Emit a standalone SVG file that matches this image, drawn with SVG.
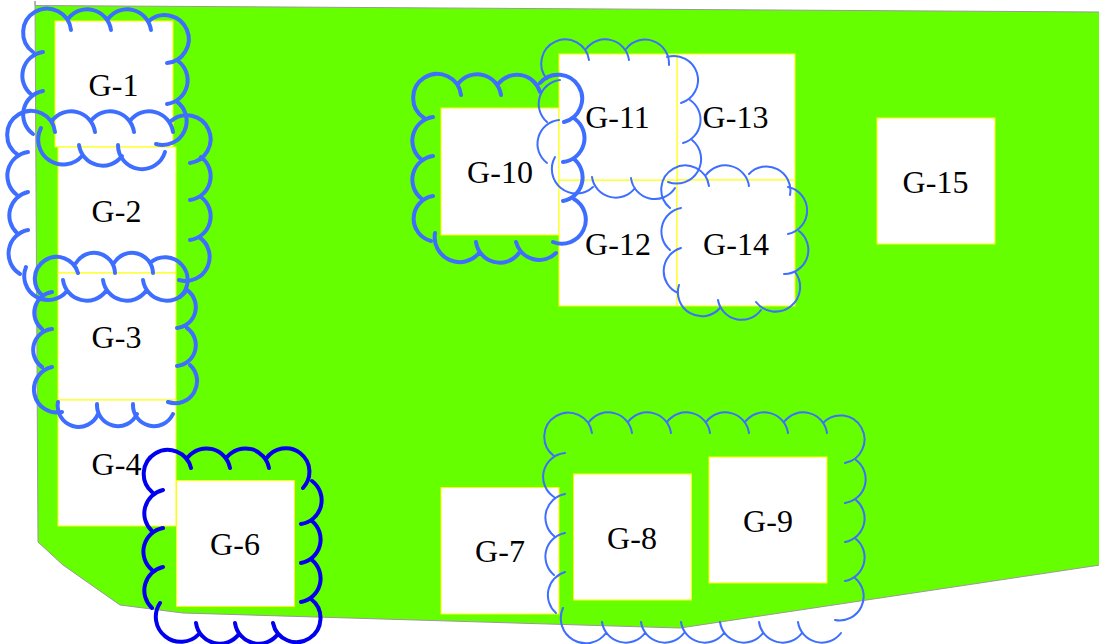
<svg xmlns="http://www.w3.org/2000/svg" width="1099" height="644" viewBox="0 0 1099 644">
<style>
.bg{fill:#66ff00;stroke:#999;stroke-width:1}
.n rect{fill:#fff;stroke:#ffff00;stroke-width:1}
.n text{font-family:"Liberation Serif","Times New Roman",serif;font-size:32px;fill:#000;text-anchor:middle}
.c{fill:none;stroke:#3d6eff;stroke-linecap:round}
.t{stroke-width:4}
.f{stroke-width:2}
.d{stroke:#0000ee}
</style>
<rect width="1099" height="644" fill="#fff"/>
<polygon class="bg" points="35,1 35,5.500 1100,12 1100,565 680,628 183,613 120,605 63,565 38,542"/>
<g id="G-1" class="n"><rect x="55" y="21" width="118" height="126"/><text x="113.500" y="96">G-1</text></g>
<g id="G-2" class="n"><rect x="58" y="147" width="118" height="126"/><text x="116.500" y="222">G-2</text></g>
<g id="G-3" class="n"><rect x="58" y="273" width="118" height="127"/><text x="116.500" y="348">G-3</text></g>
<g id="G-4" class="n"><rect x="58" y="400" width="118" height="126"/><text x="116.500" y="475">G-4</text></g>
<g id="G-6" class="n"><rect x="176.500" y="480.500" width="118" height="126"/><text x="235" y="555">G-6</text></g>
<g id="G-7" class="n"><rect x="441" y="487.500" width="118" height="126.500"/><text x="500" y="562">G-7</text></g>
<g id="G-8" class="n"><rect x="573.500" y="474" width="118" height="126"/><text x="632" y="549">G-8</text></g>
<g id="G-9" class="n"><rect x="709" y="457" width="118" height="126"/><text x="768" y="532">G-9</text></g>
<g id="G-10" class="n"><rect x="441" y="108" width="118" height="127"/><text x="500" y="183">G-10</text></g>
<g id="G-12" class="n"><rect x="559" y="180" width="118" height="126"/><text x="618" y="255">G-12</text></g>
<g id="G-13" class="n"><rect x="677" y="54" width="118" height="126"/><text x="735.500" y="128">G-13</text></g>
<g id="G-14" class="n"><rect x="677" y="180" width="118" height="126"/><text x="736" y="255">G-14</text></g>
<g id="G-11" class="n"><rect x="559" y="54" width="118" height="126"/><text x="617.500" y="128">G-11</text></g>
<g id="G-15" class="n"><rect x="877" y="118" width="118" height="126"/><text x="935.500" y="193">G-15</text></g>
<g id="connectors">
<path id="cloud-G-1" class="c t" d="M33,52A24 24 0 1 1 71,30M68,19A24 24 0 0 1 111,30M108,19A24 24 0 0 1 151,30M149,21A24 24 0 1 1 167,63M178,61A24 24 0 0 1 167,104M176,101A24 24 0 0 1 156,144M165,152A24 24 0 0 1 118,145M122,156A24 24 0 0 1 79,145M82,156A25 25 0 0 1 41,128M33,134A24 24 0 0 1 43,91M32,95A24 24 0 0 1 43,52"/>
<path id="cloud-G-2" class="c t" d="M18,155A24 24 0 1 1 55,132M52,121A24 24 0 0 1 95,132M91,121A24 24 0 0 1 134,132M130,121A24 24 0 0 1 173,132M171,121A24 24 0 1 1 190,163M201,157A24 24 0 0 1 190,200M201,197A24 24 0 0 1 190,240M199,237A24 24 0 0 1 179,280M186,291A24 24 0 0 1 143,280M146,291A24 24 0 0 1 103,280M106,291A24 24 0 0 1 63,280M67,291A24 24 0 0 1 26,267M20,274A24 24 0 0 1 28,230M17,233A24 24 0 0 1 28,192M17,195A24 24 0 0 1 28,152"/>
<path id="cloud-G-3" class="c t" d="M43,296A22 22 0 1 1 78,273M76,263A21 21 0 0 1 115,273M114,263A21 21 0 0 1 153,273M150,263A22 22 0 1 1 180,297M187,290A21 21 0 0 1 177,328M187,328A21 21 0 0 1 177,366M190,365A22 22 0 0 1 168,402M173,414A21 21 0 0 1 133,404M137,414A21 21 0 0 1 97,404M98,414A21 21 0 0 1 58,402M62,412A22 22 0 0 1 52,367M42,367A21 21 0 0 1 52,329M42,329A21 21 0 0 1 52,292"/>
<path id="cloud-G-6" class="c t d" d="M152,492A24 24 0 1 1 191,468M188,457A24 24 0 0 1 230,468M227,457A24 24 0 0 1 269,468M266,459A23.600 23.600 0 1 1 303,488M312,481A24 24 0 0 1 301,524M312,521A24 24 0 0 1 301,563M312,560A24 24 0 0 1 301,602M311,599A24 24 0 1 1 273,623M278,634A24 24 0 0 1 235,623M239,634A24 24 0 0 1 196,623M199,634A25 25 0 0 1 160,603M152,608A24 24 0 0 1 163,567M152,570A24 24 0 0 1 163,528M152,531A24 24 0 0 1 163,490"/>
<path id="cloud-G-10" class="c t" d="M424,118A24 24 0 1 1 461,95M458,84A24 24 0 0 1 501,95M498,84A24 24 0 0 1 540,92M540,83A24 24 0 1 1 564,122M575,119A24 24 0 0 1 563,162M574,159A24 24 0 0 1 563,201M574,199A24 24 0 0 1 553,242M556,253A24 24 0 0 1 516,242M519,253A24 24 0 0 1 476,242M479,253A25 25 0 0 1 435,233M431,241A23 23 0 0 1 433,196M422,199A24 24 0 0 1 433,156M422,160A24 24 0 0 1 433,117"/>
<path id="cloud-G-11" class="c f" d="M547,79A24 24 0 1 1 589,60M586,49A24 24 0 0 1 629,60M626,49A24 24 0 0 1 669,65M667,57A24 24 0 0 1 681,103M690,100A24 24 0 0 1 683,143M692,140A24.500 24.500 0 0 1 668,182M675,188A24 24 0 0 1 631,178M635,188A24 24 0 0 1 592,177M593,187A24.500 24.500 0 0 1 555,157M547,163A24 24 0 0 1 559,120M547,122A24 24 0 0 1 560,80"/>
<path id="cloud-G-14" class="c f" d="M670,208A24 24 0 1 1 709,186M706,175A24 24 0 0 1 749,186M749,174A24 24 0 0 1 790,195M788,187A24 24 0 0 1 788,234M799,231A24 24 0 0 1 784,274M795,272A24.600 24.600 0 0 1 756,302M761,310A24 24 0 0 1 718,300M720,308A24 24 0 0 1 679,285M678,293A24 24 0 0 1 681,248M670,250A24 24 0 0 1 681,208"/>
<path id="cloud-G-8-9" class="c f" d="M554,456A24 24 0 1 1 592,433M589,422A24 24 0 0 1 632,433M628,422A24 24 0 0 1 671,433M667,422A24 24 0 0 1 710,433M706,422A24 24 0 0 1 749,433M745,422A24 24 0 0 1 788,433M784,422A24 24 0 0 1 827,433M823,423A24 24 0 1 1 845,463M856,460A24 24 0 0 1 845,503M856,500A24 24 0 0 1 845,542M856,539A24 24 0 0 1 845,581M855,578A24 24 0 0 1 835,620M841,633A24 24 0 0 1 798,622M802,633A24 24 0 0 1 759,622M763,633A24 24 0 0 1 720,622M724,633A24 24 0 0 1 681,622M684,633A24 24 0 0 1 641,622M645,633A24 24 0 0 1 602,622M606,633A25 25 0 0 1 563,608M556,613A24 24 0 0 1 565,572M554,575A24 24 0 0 1 565,533M554,536A24 24 0 0 1 565,494M554,497A24 24 0 0 1 565,453"/>
</g>
</svg>
